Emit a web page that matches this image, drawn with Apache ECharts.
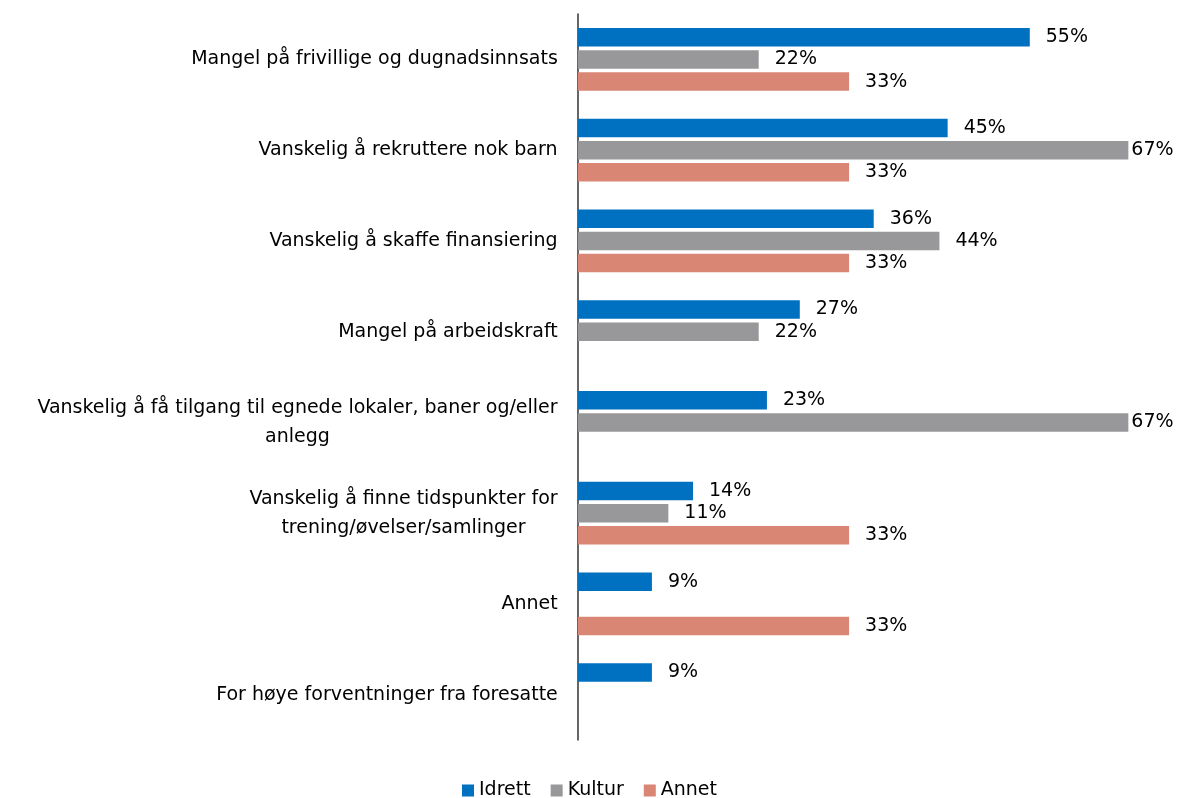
<!DOCTYPE html>
<html>
<head>
<meta charset="utf-8">
<script src="https://cdn.jsdelivr.net/npm/echarts@6/dist/echarts.min.js"></script>
<style>
  html, body { margin: 0; padding: 0; background: #fff; }
  #chart { width: 1179px; height: 798px; }
</style>
</head>
<body>
<div id="chart"></div>
<script>
// Categories (top to bottom) and shares per sector, in percent
const categories = [
  'Mangel på frivillige og dugnadsinnsats',
  'Vanskelig å rekruttere nok barn',
  'Vanskelig å skaffe finansiering',
  'Mangel på arbeidskraft',
  'Vanskelig å få tilgang til egnede lokaler, baner og/eller\nanlegg',
  'Vanskelig å finne tidspunkter for\ntrening/øvelser/samlinger',
  'Annet',
  'For høye forventninger fra foresatte'
];
const seriesNames = ['Idrett', 'Kultur', 'Annet'];
const idrett = [55, 45, 36, 27, 23, 14, 9, 9];
const kultur = [22, 67, 44, 22, 67, 11, null, null];
const annet  = [33, 33, 33, null, null, 33, 33, null];
const colors = ['#0070C0', '#98989B', '#D98674'];

const FONT = '"DejaVu Sans", sans-serif';
const FS = 19;

// Multi-line category labels: centre each line inside a box as wide as the longest line
const ctx = document.createElement('canvas').getContext('2d');
ctx.font = FS + 'px ' + FONT;
const rich = {};
categories.forEach((c, i) => {
  const lines = c.split('\n');
  const w = Math.ceil(Math.max(...lines.map(l => ctx.measureText(l).width)));
  rich['c' + i] = { width: w, align: 'center', fontSize: FS, fontFamily: FONT, color: '#000', lineHeight: 29 };
});

function withLabelFit(arr) {
  // long bars keep their label tight against the bar end
  return arr.map(v => (v != null && v >= 60) ? { value: v, label: { distance: 3 } } : v);
}

function makeSeries(name, data, color) {
  return {
    name: name,
    type: 'bar',
    data: withLabelFit(data),
    barWidth: 18.5,
    barGap: '20%',
    itemStyle: { color: color },
    label: {
      show: true,
      position: 'right',
      distance: 16,
      formatter: p => Math.round(p.value) + '%',
      fontSize: FS,
      fontFamily: FONT,
      color: '#000'
    }
  };
}

const chart = echarts.init(document.getElementById('chart'), null, { renderer: 'canvas' });
chart.setOption({
  animation: false,
  backgroundColor: '#fff',
  color: colors,
  grid: { left: 578, right: 26, top: 14, bottom: 58, containLabel: false },
  xAxis: {
    type: 'value',
    min: 0,
    max: 70,
    show: false,
    splitLine: { show: false }
  },
  yAxis: {
    type: 'category',
    data: categories,
    inverse: true,
    axisLine: { show: true, lineStyle: { color: '#333', width: 1.5 } },
    axisTick: { show: false },
    axisLabel: {
      margin: 20,
      fontSize: FS,
      fontFamily: FONT,
      color: '#000',
      lineHeight: 29,
      formatter: (value) => {
        const i = categories.indexOf(value);
        return value.split('\n').map(l => '{c' + i + '|' + l + '}').join('\n');
      },
      rich: rich
    }
  },
  legend: {
    data: seriesNames,
    top: 781,
    left: 'center',
    padding: 0,
    icon: 'rect',
    itemWidth: 12,
    itemHeight: 12,
    itemGap: 20,
    textStyle: { fontSize: FS, fontFamily: FONT, color: '#000' }
  },
  series: [
    makeSeries(seriesNames[0], idrett, colors[0]),
    makeSeries(seriesNames[1], kultur, colors[1]),
    makeSeries(seriesNames[2], annet, colors[2])
  ]
});
</script>
</body>
</html>
